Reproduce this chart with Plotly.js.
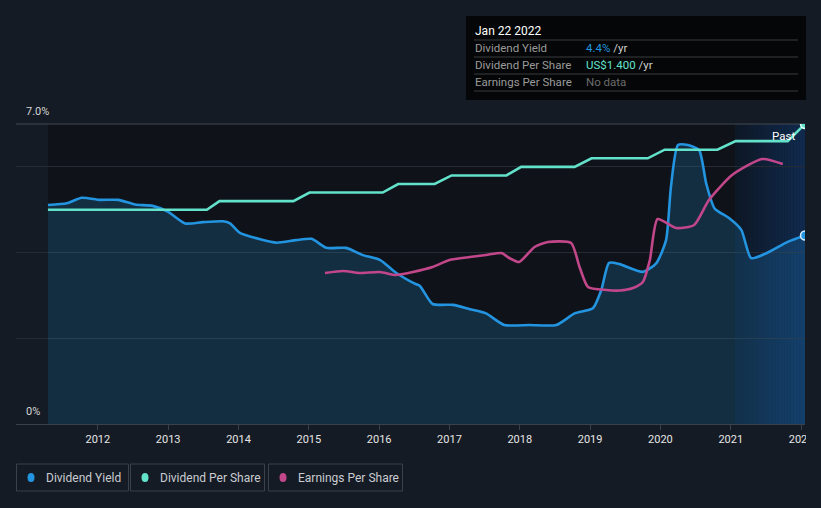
<!DOCTYPE html>
<html>
<head>
<meta charset="utf-8">
<script src="https://cdn.plot.ly/plotly-3.0.1.min.js"></script>
<style>
  html, body { margin: 0; padding: 0; background: #151b24; }
  #wrap { position: relative; width: 821px; height: 508px; }
  #chart { width: 821px; height: 508px; }
  #clip { position: absolute; left: 806px; top: 428px; width: 15px; height: 20px; background: #151b24; }
</style>
</head>
<body>
<div id="wrap"><div id="chart"></div><div id="clip"></div></div>
<script>
// ---------- data ----------
const yieldYears = [2011.29, 2011.56, 2011.77, 2012.03, 2012.29, 2012.53, 2012.78, 2013.00, 2013.24, 2013.49, 2013.78, 2013.88, 2014.02, 2014.31, 2014.54, 2014.82, 2015.04, 2015.25, 2015.53, 2015.77, 2016.01, 2016.24, 2016.50, 2016.58, 2016.76, 2017.05, 2017.29, 2017.52, 2017.78, 2018.14, 2018.52, 2018.78, 2019.04, 2019.16, 2019.27, 2019.42, 2019.75, 2019.94, 2020.08, 2020.15, 2020.25, 2020.39, 2020.55, 2020.65, 2020.77, 2020.98, 2021.15, 2021.29, 2021.50, 2021.81, 2022.056];
const yieldValues = [5.11, 5.15, 5.28, 5.23, 5.23, 5.12, 5.09, 4.95, 4.68, 4.71, 4.73, 4.68, 4.46, 4.31, 4.23, 4.29, 4.32, 4.11, 4.11, 3.94, 3.83, 3.53, 3.28, 3.22, 2.80, 2.78, 2.68, 2.58, 2.31, 2.31, 2.31, 2.58, 2.70, 3.13, 3.76, 3.73, 3.55, 3.75, 4.29, 5.54, 6.51, 6.51, 6.39, 5.62, 5.03, 4.80, 4.53, 3.87, 3.98, 4.25, 4.40];

const dpsYears = [2011.29, 2013.55, 2013.73, 2014.78, 2015.01, 2016.05, 2016.27, 2016.79, 2017.03, 2017.81, 2018.02, 2018.78, 2019.02, 2019.82, 2020.06, 2020.81, 2021.07, 2021.81, 2022.056];
const dpsValues = [1.00, 1.00, 1.04, 1.04, 1.08, 1.08, 1.12, 1.12, 1.16, 1.16, 1.20, 1.20, 1.24, 1.24, 1.28, 1.28, 1.32, 1.32, 1.40];

const epsYears = [2015.23, 2015.49, 2015.72, 2016.01, 2016.24, 2016.48, 2016.76, 2017.00, 2017.29, 2017.52, 2017.74, 2017.85, 2017.99, 2018.21, 2018.40, 2018.73, 2018.85, 2018.97, 2019.23, 2019.42, 2019.61, 2019.75, 2019.85, 2019.96, 2020.22, 2020.48, 2020.69, 2021.02, 2021.45, 2021.74];
const epsValues = [1.51, 1.53, 1.51, 1.52, 1.49, 1.52, 1.57, 1.64, 1.67, 1.69, 1.71, 1.66, 1.62, 1.77, 1.82, 1.81, 1.57, 1.37, 1.34, 1.335, 1.36, 1.42, 1.64, 2.05, 1.96, 1.99, 2.24, 2.49, 2.65, 2.60];

const tickYears = [2012, 2013, 2014, 2015, 2016, 2017, 2018, 2019, 2020, 2021, 2022];
const tickLabels = ['2012', '2013', '2014', '2015', '2016', '2017', '2018', '2019', '2020', '2021', '2022'];

const seriesNames = ['Dividend Yield', 'Dividend Per Share', 'Earnings Per Share'];
const tooltipDate = 'Jan 22 2022';
const pastStart = 2021.06;
const pastLabel = 'Past';
const yLabelTop = '7.0%';
const yLabelBottom = '0%';

// ---------- styles ----------
const C_YIELD = '#2394df', C_DPS = '#63e2cb', C_EPS = '#c2478a';
const BG = '#151b24';
const FONT = 'Roboto, "Open Sans", sans-serif';
const W = 821, H = 508, ML = 16, MR = 16, MT = 124, MB = 84;
const PW = W - ML - MR, PH = H - MT - MB;
const px = x => (x - ML) / PW;
const py = y => (H - MB - y) / PH;
const xMin = 2010.836, xMax = yieldYears[yieldYears.length - 1];

const last = a => a[a.length - 1];

const traces = [
  { x: yieldYears, y: yieldValues, type: 'scatter', mode: 'lines', yaxis: 'y',
    line: { color: C_YIELD, width: 2.6, shape: 'spline', smoothing: 0.6 },
    fill: 'tozeroy', fillcolor: 'rgba(35,148,223,0.2)',
    hoverinfo: 'skip', showlegend: false },
  { x: dpsYears, y: dpsValues, type: 'scatter', mode: 'lines', yaxis: 'y2',
    line: { color: C_DPS, width: 2.6, shape: 'linear' },
    hoverinfo: 'skip', showlegend: false },
  { x: epsYears, y: epsValues, type: 'scatter', mode: 'lines', yaxis: 'y3',
    line: { color: C_EPS, width: 2.6, shape: 'spline', smoothing: 0.6 },
    hoverinfo: 'skip', showlegend: false },
  { x: [last(yieldYears)], y: [last(yieldValues)], type: 'scatter', mode: 'markers', yaxis: 'y',
    marker: { color: C_YIELD, size: 9, line: { color: '#d8ecff', width: 1.5 } },
    hoverinfo: 'skip', showlegend: false },
  { x: [last(dpsYears)], y: [last(dpsValues)], type: 'scatter', mode: 'markers', yaxis: 'y2',
    marker: { color: C_DPS, size: 9, line: { color: '#e8fffa', width: 1.5 } },
    hoverinfo: 'skip', showlegend: false }
];

const shapes = [];
// darker plot region where data exists
shapes.push({ type: 'rect', layer: 'below', xref: 'x', yref: 'paper', x0: yieldYears[0], x1: pastStart, y0: 0, y1: 1,
  fillcolor: '#0f1319', line: { width: 0 } });
// "Past" gradient region
const N = 24;
for (let i = 0; i < N; i++) {
  const t = i / (N - 1);
  const r = Math.round(14 + t * 2), g = Math.round(24 + t * 18), b = Math.round(38 + t * 40);
  shapes.push({ type: 'rect', layer: 'below', xref: 'x', yref: 'paper',
    x0: pastStart + (xMax - pastStart) * i / N, x1: pastStart + (xMax - pastStart) * (i + 1) / N + 0.001,
    y0: 0, y1: 1, fillcolor: `rgb(${r},${g},${b})`, line: { width: 0 } });
}
// top border line at 7%
shapes.push({ type: 'line', layer: 'below', xref: 'paper', yref: 'paper', x0: 0, x1: 1, y0: 1, y1: 1,
  line: { color: '#434851', width: 1 } });
// tooltip box
shapes.push({ type: 'rect', xref: 'paper', yref: 'paper', x0: px(466), x1: px(806), y0: py(100), y1: py(16),
  fillcolor: '#050607', line: { width: 0 } });
[40, 57, 74, 91].forEach(yy => shapes.push({ type: 'line', xref: 'paper', yref: 'paper',
  x0: px(474), x1: px(798), y0: py(yy), y1: py(yy), line: { color: '#3a3b3e', width: 1 } }));
// legend boxes + dots
const legBoxes = [[16, 129], [130, 265], [268, 403]];
const legColors = [C_YIELD, C_DPS, C_EPS];
legBoxes.forEach((bx, i) => {
  shapes.push({ type: 'rect', xref: 'paper', yref: 'paper', x0: px(bx[0] + 0.5), x1: px(bx[1] - 0.5),
    y0: py(491), y1: py(464), fillcolor: 'rgba(0,0,0,0)', line: { color: '#3b4049', width: 1 } });
  shapes.push({ type: 'circle', xref: 'paper', yref: 'paper', x0: px(bx[0] + 11.5), x1: px(bx[0] + 18.5),
    y0: py(482), y1: py(473), fillcolor: legColors[i], line: { width: 0 } });
});

const annotations = [
  { text: yLabelTop, xref: 'paper', yref: 'paper', x: px(24), y: py(112), xanchor: 'left', yanchor: 'middle',
    showarrow: false, font: { family: FONT, size: 11, color: '#d6d6d6' } },
  { text: yLabelBottom, xref: 'paper', yref: 'paper', x: px(24), y: py(411), xanchor: 'left', yanchor: 'middle',
    showarrow: false, font: { family: FONT, size: 11, color: '#d6d6d6' } },
  { text: pastLabel, xref: 'paper', yref: 'paper', x: px(797), y: py(136), xanchor: 'right', yanchor: 'middle',
    showarrow: false, font: { family: FONT, size: 11.5, color: '#ffffff' } },
  { text: tooltipDate, xref: 'paper', yref: 'paper', x: px(473), y: py(31), xanchor: 'left', yanchor: 'middle',
    showarrow: false, font: { family: FONT, size: 12, color: '#ffffff' } }
];
const rowY = [48, 65, 82];
const rowVals = [
  `<span style="color:${C_YIELD}">${last(yieldValues).toFixed(1)}%</span> /yr`,
  `<span style="color:${C_DPS}">US$${last(dpsValues).toFixed(3)}</span> /yr`,
  `<span style="color:#6c6c6c">No data</span>`
];
seriesNames.forEach((n, i) => {
  annotations.push({ text: n, xref: 'paper', yref: 'paper', x: px(473), y: py(rowY[i]), xanchor: 'left', yanchor: 'middle',
    showarrow: false, font: { family: FONT, size: 11.5, color: '#9a9a9a' } });
  annotations.push({ text: rowVals[i], xref: 'paper', yref: 'paper', x: px(584), y: py(rowY[i]), xanchor: 'left', yanchor: 'middle',
    showarrow: false, font: { family: FONT, size: 11.5, color: '#cfcfcf' } });
  annotations.push({ text: n, xref: 'paper', yref: 'paper', x: px(legBoxes[i][0] + 28), y: py(478), xanchor: 'left', yanchor: 'middle',
    showarrow: false, font: { family: FONT, size: 12, color: '#c9ccd1' } });
});

const layout = {
  width: W, height: H,
  margin: { l: ML, r: MR, t: MT, b: MB, pad: 0 },
  paper_bgcolor: BG, plot_bgcolor: BG,
  showlegend: false,
  xaxis: { range: [xMin, xMax], tickmode: 'array', tickvals: tickYears, ticktext: tickLabels,
    showgrid: false, zeroline: false, showline: true, linecolor: '#3b4049', linewidth: 1,
    ticks: 'outside', ticklen: 5, tickcolor: '#3b4049',
    tickfont: { family: FONT, size: 11, color: '#e6e6e6' }, fixedrange: true },
  yaxis: { range: [0, 7], tickmode: 'array', tickvals: [2, 4, 6], showticklabels: false,
    showgrid: true, gridcolor: '#262b33', gridwidth: 1, zeroline: false, fixedrange: true },
  yaxis2: { range: [0, 1.4], overlaying: 'y', visible: false, fixedrange: true },
  yaxis3: { range: [0, 3.0], overlaying: 'y', visible: false, fixedrange: true },
  shapes: shapes,
  annotations: annotations
};

Plotly.newPlot('chart', traces, layout, { displayModeBar: false, staticPlot: true });
</script>
</body>
</html>
